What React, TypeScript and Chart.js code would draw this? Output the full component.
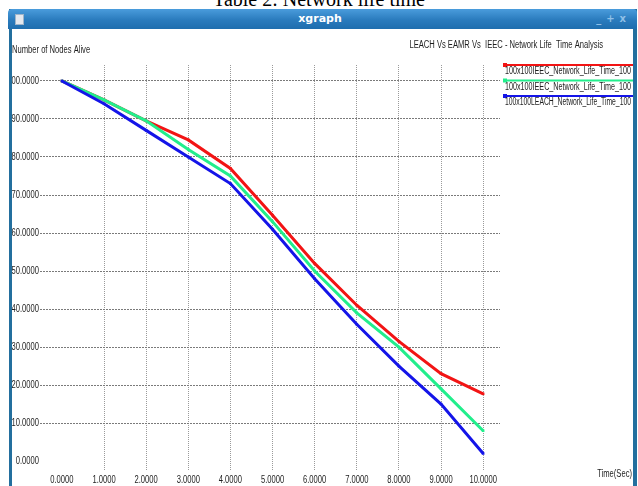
import React, { useEffect, useRef } from "react";
import { Chart, registerables } from "chart.js";

Chart.register(...registerables);

// Simulation time (seconds) and nodes still alive for each protocol run
const timeSec = [0, 1, 2, 3, 4, 5, 6, 7, 8, 9, 10];
const ieecRunA = [100, 95, 89.5, 84.5, 77, 64.7, 52, 41, 31.5, 23, 17.7];
const ieecRunB = [100, 95, 89.5, 82, 75, 63, 50, 39, 30, 19, 8];
const leachRun = [100, 94, 87, 80, 73, 61, 48, 36, 25, 15, 2];

const seriesNames = [
  "100x100IEEC_Network_Life_Time_100",
  "100x100IEEC_Network_Life_Time_100",
  "100x100LEACH_Network_Life_Time_100",
];
const seriesColors = ["#f21414", "#22ee8c", "#1414e8"];

const yTickValues = [0, 10, 20, 30, 40, 50, 60, 70, 80, 90, 100];
const xTickValues = [0, 1, 2, 3, 4, 5, 6, 7, 8, 9, 10];

const plotTitle = "LEACH Vs EAMR Vs  IEEC - Network Life  Time Analysis";
const yAxisTitle = "Number of Nodes Alive";
const xAxisTitle = "Time(Sec)";
const caption = "Table 2: Network life time";

// xgraph uses a tall, narrow bitmap font: emulate it with a horizontally squeezed sans
const SMALL_FONT = '10px "Liberation Sans", Arial, sans-serif';
const SQUEEZE = 0.76;
const TEXT_COLOR = "#1e1e1e";

function narrowText(
  ctx: CanvasRenderingContext2D,
  text: string,
  x: number,
  y: number,
  align: CanvasTextAlign,
  maxWidth?: number
) {
  ctx.save();
  ctx.font = SMALL_FONT;
  let sx = SQUEEZE;
  if (maxWidth) {
    const w = ctx.measureText(text).width;
    sx = Math.min(sx, maxWidth / w);
  }
  ctx.translate(x, y);
  ctx.scale(sx, 1);
  ctx.fillStyle = TEXT_COLOR;
  ctx.textBaseline = "middle";
  ctx.textAlign = align;
  ctx.fillText(text, 0, 0);
  ctx.restore();
}

const fmt = (v: number) => v.toFixed(4);

// Header texts, tick labels and the stacked legend at the right
const xgraphDecor = {
  id: "xgraphDecor",
  afterDraw(chart: any) {
    const ctx = chart.ctx as CanvasRenderingContext2D;
    const xs = chart.scales.x;
    const ys = chart.scales.y;
    const area = chart.chartArea;

    narrowText(ctx, yAxisTitle, 12, 50, "left");
    narrowText(ctx, plotTitle, 603, 45, "right", 206);
    narrowText(ctx, xAxisTitle, 632, 474, "right");

    yTickValues.forEach((v) => {
      narrowText(ctx, fmt(v), area.left - 1, ys.getPixelForValue(v), "right");
    });
    xTickValues.forEach((v) => {
      narrowText(ctx, fmt(v), xs.getPixelForValue(v), area.bottom + 9, "center");
    });

    chart.data.datasets.forEach((ds: any, i: number) => {
      const y = 65 + i * 15.5;
      ctx.save();
      ctx.strokeStyle = ds.borderColor;
      ctx.lineWidth = 2;
      ctx.beginPath();
      ctx.moveTo(505, y);
      ctx.lineTo(633, y);
      ctx.stroke();
      ctx.fillStyle = ds.borderColor;
      ctx.fillRect(503, y - 2, 4, 4);
      ctx.restore();
      narrowText(ctx, ds.label, 505, y + 6.5, "left", 126);
    });
  },
};

function gridColor(base: string) {
  return (c: any) => (c.tick && c.tick.value === 0 ? "rgba(0,0,0,0)" : base);
}

export default function App() {
  const canvasRef = useRef<HTMLCanvasElement | null>(null);

  useEffect(() => {
    document.body.style.margin = "0";
    const canvas = canvasRef.current;
    if (!canvas) return;
    const series = [ieecRunA, ieecRunB, leachRun];
    const chart = new Chart(canvas, {
      type: "line",
      data: {
        datasets: series.map((vals, i) => ({
          label: seriesNames[i],
          data: timeSec.map((t, k) => ({ x: t, y: vals[k] })),
          borderColor: seriesColors[i],
          backgroundColor: seriesColors[i],
          borderWidth: 3,
          pointRadius: 1.8,
          pointStyle: "rect",
          pointBorderWidth: 0,
          tension: 0,
          fill: false,
          // later series are painted over earlier ones
          order: series.length - i,
        })),
      },
      options: {
        animation: false,
        responsive: false,
        devicePixelRatio: 1,
        events: [],
        layout: { padding: { top: 65, right: 138, left: 0, bottom: 0 } },
        plugins: {
          legend: { display: false },
          tooltip: { enabled: false },
          title: { display: false },
        },
        scales: {
          x: {
            type: "linear",
            min: -0.52,
            max: 10.4,
            afterFit: (s: any) => {
              s.height = 15;
            },
            afterBuildTicks: (s: any) => {
              s.ticks = xTickValues.map((v) => ({ value: v }));
            },
            ticks: { display: false },
            grid: {
              drawTicks: false,
              color: gridColor("#9a9a9a"),
              lineWidth: 1,
            },
            border: { display: false, dash: [1, 1] },
          },
          y: {
            type: "linear",
            min: -2.6,
            max: 104.2,
            afterFit: (s: any) => {
              s.width = 40;
            },
            afterBuildTicks: (s: any) => {
              s.ticks = yTickValues.map((v) => ({ value: v }));
            },
            ticks: { display: false },
            grid: {
              drawTicks: false,
              color: gridColor("#7a7a7a"),
              lineWidth: 1,
            },
            border: { display: false, dash: [2, 1] },
          },
        },
      },
      plugins: [xgraphDecor],
    });
    return () => chart.destroy();
  }, []);

  return (
    <div
      style={{
        position: "fixed",
        left: 0,
        top: 0,
        width: 638,
        height: 486,
        overflow: "hidden",
        background: "#fff",
      }}
    >
      <div
        style={{
          position: "absolute",
          left: 0,
          top: -11,
          width: 638,
          textAlign: "center",
          fontFamily: '"Liberation Serif", "Times New Roman", serif',
          fontSize: 20,
          lineHeight: "20px",
          color: "#000",
          whiteSpace: "nowrap",
        }}
      >
        {caption}
      </div>
      <canvas
        ref={canvasRef}
        width={638}
        height={486}
        style={{ position: "absolute", left: 0, top: 0, width: 638, height: 486, zIndex: 1 }}
      />
      {/* page margin outside the window and the window frame borders */}
      <div style={{ position: "absolute", left: 0, top: 29, width: 9, height: 460, background: "#fff", zIndex: 2 }} />
      <div style={{ position: "absolute", left: 9, top: 9, width: 3, height: 480, background: "#236f9e", zIndex: 2 }} />
      <div style={{ position: "absolute", left: 633, top: 9, width: 4, height: 480, background: "#236f9e", zIndex: 2 }} />
      {/* title bar */}
      <div
        style={{
          position: "absolute",
          left: 8,
          top: 9,
          width: 629,
          height: 20,
          borderRadius: "4px 4px 0 0",
          background: "linear-gradient(#4a9cdc, #2a7bbd 55%, #1e6dae)",
          zIndex: 3,
          color: "#fff",
          fontFamily: '"DejaVu Sans", sans-serif',
        }}
      >
        <div
          style={{
            position: "absolute",
            left: 7,
            top: 5,
            width: 7,
            height: 9,
            background: "#e4e8ee",
            border: "1px solid #9fb4c8",
          }}
        />
        <div
          style={{
            position: "absolute",
            left: 0,
            top: 2,
            width: 624,
            textAlign: "center",
            fontWeight: "bold",
            fontSize: 11,
            lineHeight: "15px",
          }}
        >
          xgraph
        </div>
        <div
          style={{
            position: "absolute",
            right: 6,
            top: 3,
            fontSize: 10,
            lineHeight: "14px",
            color: "#8fc0e8",
            fontWeight: "bold",
            letterSpacing: 5,
          }}
        >
          _+x
        </div>
      </div>
    </div>
  );
}
